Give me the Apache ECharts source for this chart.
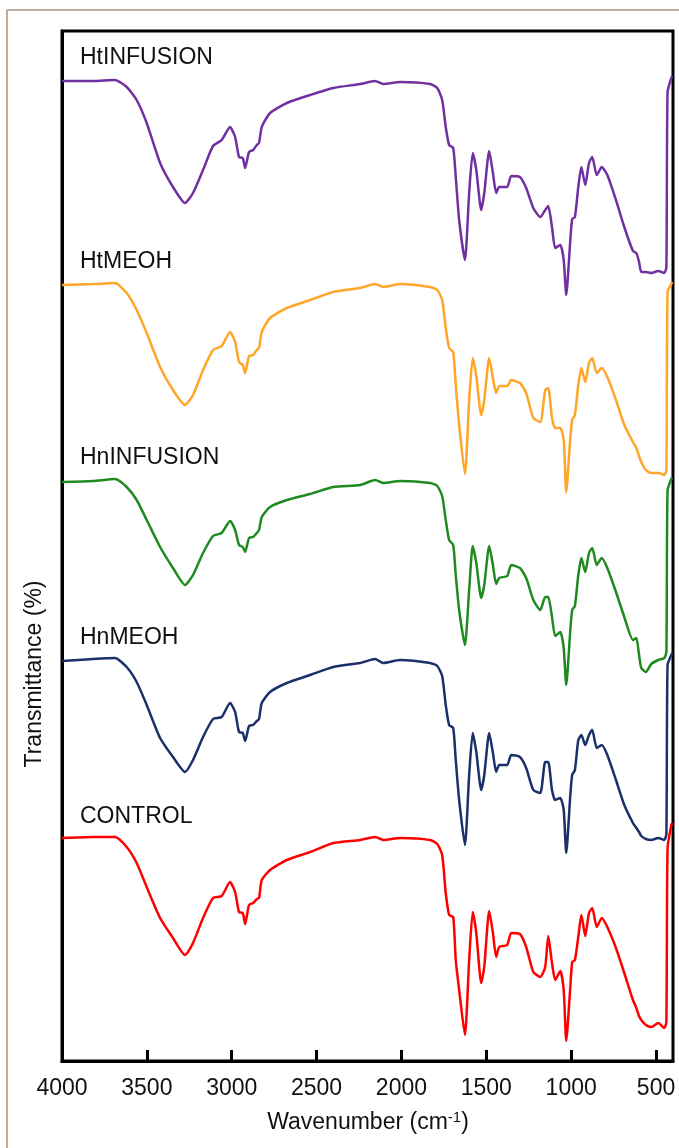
<!DOCTYPE html>
<html>
<head>
<meta charset="utf-8">
<script src="https://cdn.jsdelivr.net/npm/echarts@6/dist/echarts.min.js"></script>
<style>
html,body{margin:0;padding:0;background:#fff;}
#chart{width:679px;height:1148px;}
</style>
</head>
<body>
<div id="chart"></div>
<script>
// Wavenumber sample points (cm-1), shared by all spectra
const wavenumbers = [4000,3817,3688,3619,3560,3501,3422,3346,3275,3228,
 3169,3110,3059,3010,2980,2957,2935,2921,2898,2874,
 2852,2839,2823,2774,2675,2538,2402,2243,2155,2108,
 2007,1831,1789,1760,1739,1719,1695,1680,1660,1626,
 1601,1580,1559,1530,1512,1483,1461,1442,1424,1377,
 1353,1302,1265,1223,1182,1153,1135,1113,1094,1064,
 1044,1029,1005,994,978,958,940,917,895,876,
 849,820,787,736,687,636,616,600,587,560,
 528,487,451,439,432,410,404];

// Offset transmittance (arbitrary stacked units)
const htInfusion = [98.0,98.0,98.1,97.4,96.1,93.8,89.8,87.4,85.8,86.8,
 89.1,91.5,92.1,93.4,92.4,90.4,90.3,89.3,90.9,91.1,
 91.6,91.8,93.4,94.8,95.8,96.6,97.3,97.7,98.0,97.7,
 97.9,97.7,97.3,96.1,93.4,91.6,91.3,88.4,84.1,80.1,
 86.8,90.8,89.1,85.1,86.8,91.0,88.8,86.8,87.4,87.4,
 88.5,88.4,87.3,85.3,84.4,85.1,85.5,83.4,81.3,81.6,
 80.1,76.6,82.1,84.2,84.4,87.4,89.4,87.6,89.8,90.4,
 88.6,89.4,88.6,86.1,83.4,81.0,80.8,79.9,78.9,78.9,
 78.8,79.0,78.8,79.4,96.9,98.3,98.5];

const htMeoh = [77.6,77.7,77.8,76.8,75.1,72.8,69.4,67.1,65.6,66.6,
 69.1,71.1,71.5,72.9,71.9,69.9,69.6,68.8,70.5,70.6,
 71.1,71.3,72.9,74.3,75.3,76.1,76.9,77.3,77.7,77.4,
 77.7,77.4,77.1,76.1,73.3,71.3,70.9,67.6,63.6,58.7,
 66.1,70.3,68.5,64.6,66.1,70.3,68.3,66.8,67.5,67.5,
 68.1,67.8,66.8,64.3,63.9,67.1,67.3,64.3,63.3,63.3,
 62.1,56.9,62.3,64.1,64.6,67.6,69.3,67.9,69.8,70.3,
 68.8,69.3,68.4,66.1,63.6,61.9,61.3,60.5,59.9,59.1,
 58.8,58.8,58.6,59.1,76.9,77.7,77.9];

const hnInfusion = [57.9,58.0,58.2,57.4,56.1,54.1,51.4,49.3,47.6,48.6,
 50.8,52.5,52.8,54.0,53.1,51.6,51.4,50.9,52.3,52.4,
 52.8,53.1,54.4,55.4,56.1,56.7,57.4,57.6,58.1,57.8,
 58.0,57.8,57.5,56.5,54.1,52.1,51.6,48.6,45.1,41.6,
 47.1,51.5,49.8,46.3,47.6,51.5,49.6,47.7,48.3,48.5,
 49.6,49.3,48.3,46.1,45.1,46.4,46.4,44.4,42.5,42.9,
 41.3,37.6,43.1,45.1,45.5,48.6,50.3,48.9,50.8,51.3,
 49.6,50.3,49.3,46.9,44.4,42.1,42.3,40.6,39.3,38.9,
 39.7,40.1,40.3,40.9,57.1,58.2,58.3];

const hnMeoh = [40.0,40.2,40.3,39.4,37.9,35.6,32.3,30.4,28.9,30.1,
 32.4,34.2,34.4,35.8,34.9,32.9,32.8,32.0,33.5,33.6,
 34.0,34.2,35.8,36.9,37.8,38.6,39.4,39.8,40.2,39.8,
 40.1,39.8,39.5,38.5,35.6,33.6,33.3,30.1,26.1,21.6,
 28.6,32.8,30.9,27.1,28.6,32.8,30.8,28.9,29.6,29.6,
 30.6,30.4,29.3,27.1,26.8,29.9,29.9,27.1,26.1,26.3,
 25.1,20.8,26.6,28.6,29.1,32.1,32.6,31.6,32.6,33.1,
 31.3,31.6,30.6,28.1,25.6,23.8,23.3,22.9,22.5,22.2,
 22.1,22.3,22.1,22.7,39.6,40.6,40.8];

const control = [22.3,22.4,22.4,21.4,19.8,17.4,14.3,12.3,10.6,11.8,
 14.3,16.3,16.5,17.9,16.9,14.9,14.8,13.7,15.6,15.8,
 16.2,16.3,18.1,19.1,20.1,20.9,21.8,22.1,22.4,22.1,
 22.3,22.1,21.7,20.6,16.8,14.6,14.4,10.1,7.1,2.6,
 10.1,14.9,12.8,7.8,9.4,15.0,12.8,10.4,11.4,11.6,
 12.8,12.7,11.4,8.9,8.4,9.4,12.5,9.8,8.1,9.0,
 7.1,2.0,7.4,9.9,10.1,12.4,14.6,12.5,14.8,15.3,
 13.4,14.3,13.4,11.3,8.8,6.1,5.3,4.5,4.1,3.6,
 3.4,3.8,3.3,3.9,21.3,23.6,23.8];

const seriesNames = ['HtINFUSION','HtMEOH','HnINFUSION','HnMEOH','CONTROL'];
const xTickValues = [4000,3500,3000,2500,2000,1500,1000,500];

const colors = ['#7030A0','#FFA528','#1F8A1F','#1B2F6B','#FF0000'];
const seriesValues = [htInfusion, htMeoh, hnInfusion, hnMeoh, control];
const labelY = [58, 262, 458, 638, 817];

const chart = echarts.init(document.getElementById('chart'), null, {renderer:'canvas'});
const FONT = 'Liberation Sans, Arial, sans-serif';

const option = {
  backgroundColor: '#fff',
  animation: false,
  grid: {left: 62, right: 6, top: 31, bottom: 87, show: true, borderColor: '#000', borderWidth: 3, backgroundColor: 'transparent'},
  xAxis: {
    type: 'value', min: 400, max: 4000, inverse: true,
    axisLine: {show: true, onZero: false, lineStyle: {color: '#000', width: 3}},
    axisTick: {show: true, inside: true, length: 11, lineStyle: {color: '#000', width: 3}, customValues: xTickValues},
    axisLabel: {show: true, margin: 16, color: '#111', fontSize: 23, fontFamily: FONT, customValues: xTickValues,
      formatter: v => String(v)},
    splitLine: {show: false}
  },
  yAxis: {
    type: 'value', min: 0, max: 103,
    axisLine: {show: true, lineStyle: {color: '#000', width: 3}},
    axisTick: {show: false}, axisLabel: {show: false}, splitLine: {show: false}
  },
  series: seriesNames.map((name, k) => ({
    name: name, type: 'line', showSymbol: false, smooth: 0.2,
    lineStyle: {color: colors[k], width: 2.5},
    data: wavenumbers.map((w, i) => [w, seriesValues[k][i]])
  })),
  graphic: [
    {type: 'line', shape: {x1: 7, y1: 10, x2: 679, y2: 10}, style: {stroke: '#B0917A', lineWidth: 1.5}},
    {type: 'line', shape: {x1: 7, y1: 10, x2: 7, y2: 1148}, style: {stroke: '#B0917A', lineWidth: 1.5}},
    ...seriesNames.map((name, k) => ({
      type: 'text', x: 80, y: labelY[k],
      style: {text: name, fill: '#111', font: '23px ' + FONT, verticalAlign: 'middle', align: 'left'}
    })),
    {type: 'text', x: 35, y: 674, rotation: Math.PI / 2,
     style: {text: 'Transmittance (%)', fill: '#111', font: '23px ' + FONT, align: 'center', verticalAlign: 'middle'}},
    {type: 'text', x: 368, y: 1123,
     style: {text: 'Wavenumber (cm{sup|-1})', fill: '#111', font: '23px ' + FONT, fontSize: 23, fontFamily: FONT, align: 'center', verticalAlign: 'middle',
       rich: {sup: {fontSize: 15, fontFamily: FONT, fill: '#111', verticalAlign: 'top', padding: [0,0,10,0]}}}}
  ]
};
chart.setOption(option);
</script>
</body>
</html>
